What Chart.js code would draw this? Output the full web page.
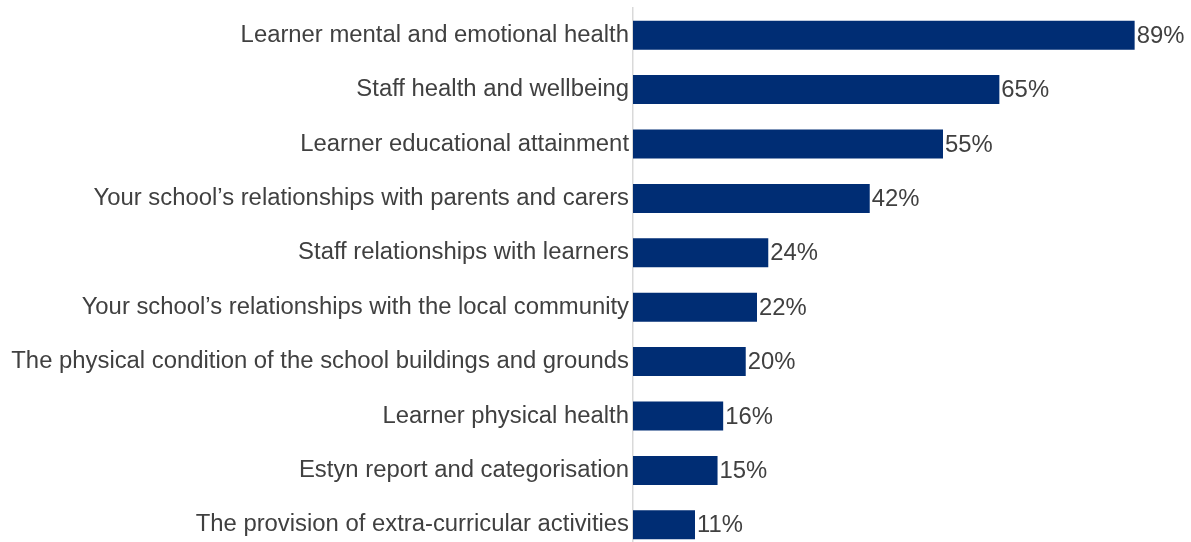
<!DOCTYPE html>
<html>
<head>
<meta charset="utf-8">
<script src="https://cdn.jsdelivr.net/npm/chart.js@4"></script>
<style>
    html, body { margin: 0; padding: 0; background: #fff; overflow: hidden; }
    #wrap { width: 1191px; height: 552px; position: relative; }
</style>
</head>
<body>
<div id="wrap"><canvas id="impactChart"></canvas></div>
<script>
// Areas and share of respondents (%)
const categories = [
    'Learner mental and emotional health',
    'Staff health and wellbeing',
    'Learner educational attainment',
    'Your school\u2019s relationships with parents and carers',
    'Staff relationships with learners',
    'Your school\u2019s relationships with the local community',
    'The physical condition of the school buildings and grounds',
    'Learner physical health',
    'Estyn report and categorisation',
    'The provision of extra-curricular activities'
];
const percentages = [89, 65, 55, 42, 24, 22, 20, 16, 15, 11];

const textColour = '#404040';
const fontFamily = '"Liberation Sans", Arial, Helvetica, sans-serif';
const fontSize = 23.85;

// Writes the percentage just past the end of each bar
const valueLabels = {
    id: 'valueLabels',
    afterDatasetsDraw(chart) {
        const ctx = chart.ctx;
        const meta = chart.getDatasetMeta(0);
        ctx.save();
        ctx.font = fontSize + 'px ' + fontFamily;
        ctx.fillStyle = textColour;
        ctx.textAlign = 'left';
        ctx.textBaseline = 'middle';
        meta.data.forEach((bar, i) => {
            ctx.fillText(percentages[i] + '%', bar.x + 2, bar.y + 1);
        });
        ctx.restore();
    }
};

document.addEventListener('DOMContentLoaded', function() {
    const ctx = document.getElementById('impactChart').getContext('2d');
    new Chart(ctx, {
        type: 'bar',
        data: {
            labels: categories,
            datasets: [{
                data: percentages,
                backgroundColor: '#002d74',
                barPercentage: 0.534,
                categoryPercentage: 1
            }]
        },
        options: {
            indexAxis: 'y',
            responsive: true,
            maintainAspectRatio: false,
            animation: false,
            layout: { padding: { top: 8, right: 0, bottom: 0, left: 0 } },
            plugins: {
                legend: { display: false },
                tooltip: { enabled: false }
            },
            scales: {
                x: {
                    display: false,
                    min: 0,
                    max: 99
                },
                y: {
                    grid: { display: false, drawTicks: false },
                    border: { display: true, color: '#d9d9d9', width: 1.5 },
                    ticks: {
                        padding: 4,
                        color: textColour,
                        font: { family: fontFamily, size: fontSize }
                    },
                    afterFit(scale) {
                        // fixed label column, no extra room above/below for tick text
                        scale.width = 633;
                        scale.paddingTop = 0;
                        scale.paddingBottom = 0;
                    }
                }
            }
        },
        plugins: [valueLabels]
    });
});
</script>
</body>
</html>
